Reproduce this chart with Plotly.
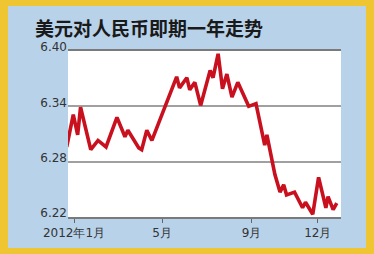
import plotly.graph_objects as go

dates = ["2011-12-22", "2011-12-31", "2012-01-06", "2012-01-10", "2012-01-24", "2012-02-03",
         "2012-02-14", "2012-02-29", "2012-03-11", "2012-03-15", "2012-03-30", "2012-04-03",
         "2012-04-10", "2012-04-17", "2012-05-21", "2012-05-25", "2012-06-04", "2012-06-08",
         "2012-06-15", "2012-06-23", "2012-07-06", "2012-07-10", "2012-07-17", "2012-07-23",
         "2012-07-29", "2012-08-05", "2012-08-13", "2012-08-28", "2012-09-07", "2012-09-19",
         "2012-09-22", "2012-09-25", "2012-10-03", "2012-10-10", "2012-10-15", "2012-10-19",
         "2012-10-30", "2012-11-10", "2012-11-14", "2012-11-24", "2012-12-02", "2012-12-12",
         "2012-12-15", "2012-12-22", "2012-12-27"]
rates = [6.296, 6.331, 6.309, 6.339, 6.293, 6.303,
         6.296, 6.328, 6.307, 6.314, 6.295, 6.293,
         6.314, 6.303, 6.372, 6.360, 6.371, 6.358,
         6.366, 6.341, 6.379, 6.371, 6.397, 6.359,
         6.375, 6.350, 6.366, 6.340, 6.343, 6.298,
         6.309, 6.296, 6.266, 6.247, 6.255, 6.244,
         6.247, 6.230, 6.236, 6.223, 6.263, 6.230,
         6.242, 6.228, 6.235]

y_ticks = [6.22, 6.28, 6.34, 6.40]
y_labels = ["6.22", "6.28", "6.34", "6.40"]
x_ticks = ["2012-01-01", "2012-05-01", "2012-09-01", "2012-12-01"]
x_labels = ["2012年1月", "5月", "9月", "12月"]
title = "美元对人民币即期一年走势"

fig = go.Figure()
fig.add_trace(go.Scatter(x=dates, y=rates, mode="lines",
                         line=dict(color="#c8101e", width=3.6),
                         hoverinfo="skip"))

tick_font = dict(family="DejaVu Sans", size=12, color="#333333")

fig.update_layout(
    width=374, height=254,
    margin=dict(l=68, r=33, t=51, b=37),
    paper_bgcolor="#f0c532",
    plot_bgcolor="#ffffff",
    showlegend=False,
    xaxis=dict(type="date", range=["2011-12-23 18:00", "2013-01-01 19:00"],
               tickvals=x_ticks, ticktext=x_labels, tickfont=tick_font,
               ticks="outside", ticklen=4, tickcolor="#666666", tickwidth=1,
               showgrid=False, showline=True, linecolor="#7a7a7a", linewidth=1.5,
               mirror=True, zeroline=False, fixedrange=True),
    yaxis=dict(range=[6.22, 6.40], tickvals=y_ticks, ticktext=y_labels,
               tickfont=tick_font, ticks="", showgrid=True, gridcolor="#a0a0a0",
               gridwidth=1.5, showline=False, zeroline=False,
               ticklabelstandoff=0, ticklabelshift=-4, fixedrange=True),
    shapes=[
        dict(type="rect", xref="paper", yref="paper", x0=-0.2198, x1=1.0916,
             y0=-0.1867, y1=1.2711, fillcolor="#b8d2ea", line=dict(width=0),
             layer="below"),
        dict(type="rect", xref="paper", yref="paper", x0=0, x1=1, y0=0, y1=1,
             fillcolor="#ffffff", line=dict(width=0), layer="below"),
    ],
    annotations=[
        dict(text="<b>" + title + "</b>", xref="paper", yref="paper",
             x=-0.128, y=1.1386, xanchor="left", yanchor="middle", showarrow=False,
             font=dict(family="Noto Sans CJK SC", size=19, color="#1a1a1a")),
    ],
)

fig.write_html("out.html", config={"displayModeBar": False})
